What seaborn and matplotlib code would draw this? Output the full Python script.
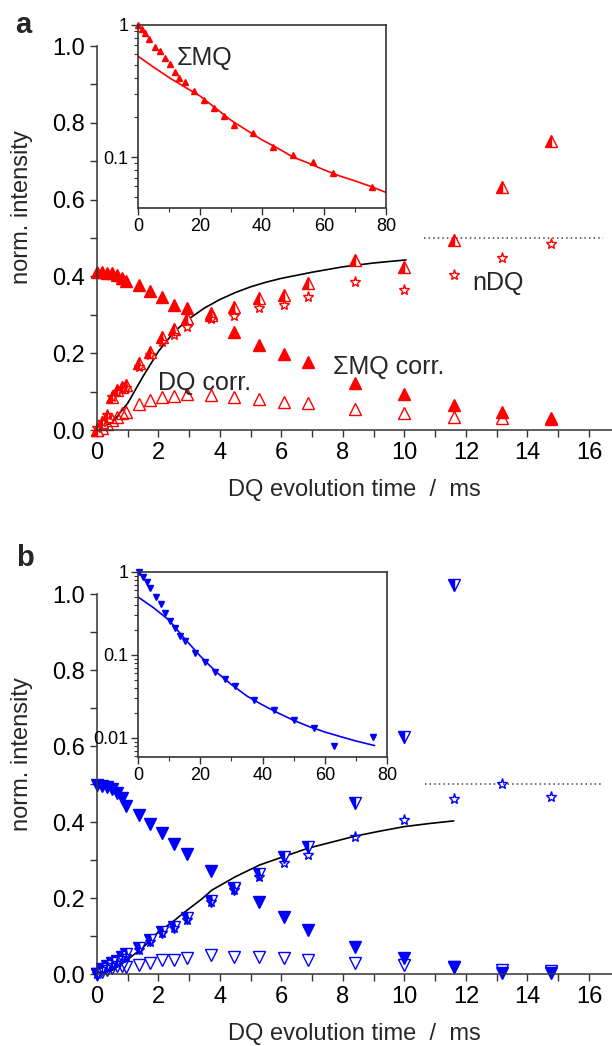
import matplotlib
matplotlib.use("Agg")
import matplotlib.pyplot as plt
from matplotlib.ticker import MultipleLocator, FixedLocator, FixedFormatter, LogLocator, NullFormatter
import seaborn as sns

# DQ evolution times (ms), shared by both panels
t = [0.0, 0.15, 0.33, 0.48, 0.64, 0.8, 0.95, 1.35, 1.73, 2.11, 2.5, 2.92,
     3.7, 4.47, 5.28, 6.07, 6.86, 8.4, 10.0, 11.6, 13.17, 14.75]

# panel a (red)
smq_a = [0.412, 0.412, 0.41, 0.41, 0.404, 0.395, 0.388, 0.378, 0.363, 0.347, 0.326, 0.317,
         0.304, 0.256, 0.221, 0.198, 0.176, 0.122, 0.095, 0.065, 0.048, 0.03]
dq_a = [0.0, 0.006, 0.015, 0.025, 0.035, 0.045, 0.048, 0.069, 0.078, 0.087, 0.089, 0.095,
        0.091, 0.087, 0.08, 0.074, 0.071, 0.056, 0.043, 0.035, 0.03, 0.028]
ndq_a = [0.005, 0.02, 0.04, 0.085, 0.1, 0.106, 0.11, 0.165, 0.195, 0.23, 0.247, 0.269,
         0.29, 0.297, 0.317, 0.326, 0.347, 0.386, 0.365, 0.404, 0.447, 0.484]
half_a = [0.0, 0.02, 0.037, 0.087, 0.105, 0.112, 0.117, 0.174, 0.204, 0.243, 0.262, 0.293,
          0.30, 0.321, 0.343, 0.352, 0.382, 0.443, 0.425, 0.495, 0.632, 0.753]
fit_a_t = [0, 0.5, 1.0, 1.5, 2.0, 2.5, 3.0, 3.5, 4.0, 4.5, 5.0, 5.5, 6.0, 6.5, 7.0, 7.5, 8.0, 9.0, 10.05]
fit_a_y = [0, 0.02, 0.07, 0.14, 0.205, 0.255, 0.29, 0.318, 0.34, 0.358, 0.373, 0.385, 0.395,
           0.403, 0.411, 0.418, 0.425, 0.435, 0.443]

# panel b (blue)
smq_b = [0.497, 0.495, 0.491, 0.486, 0.476, 0.462, 0.442, 0.418, 0.395, 0.372, 0.342, 0.316,
         0.272, 0.225, 0.189, 0.149, 0.116, 0.072, 0.041, 0.018, 0.003, 0.002]
dq_b = [0.0, 0.006, 0.01, 0.015, 0.02, 0.02, 0.019, 0.024, 0.03, 0.037, 0.037, 0.041,
        0.05, 0.046, 0.046, 0.043, 0.037, 0.03, 0.024, 0.019, 0.01, 0.009]
ndq_b = [0.0, 0.012, 0.019, 0.024, 0.028, 0.041, 0.047, 0.063, 0.085, 0.107, 0.12, 0.142,
         0.19, 0.221, 0.256, 0.291, 0.313, 0.361, 0.405, 0.46, 0.499, 0.465]
half_b = [0.0, 0.014, 0.022, 0.028, 0.033, 0.045, 0.052, 0.068, 0.09, 0.11, 0.125, 0.148,
          0.193, 0.226, 0.264, 0.307, 0.335, 0.449, 0.625, 1.024]
fit_b_t = [0, 0.5, 0.9, 1.5, 1.95, 2.5, 2.93, 3.4, 3.74, 4.5, 5.29, 6.07, 6.86, 7.92, 8.4,
           9.2, 10.0, 10.8, 11.6]
fit_b_y = [0, 0.01, 0.032, 0.07, 0.107, 0.14, 0.168, 0.197, 0.221, 0.256, 0.287, 0.309, 0.331,
           0.353, 0.363, 0.376, 0.388, 0.396, 0.403]

# insets: sum MQ on log scale
ins_a_t = [0.1, 1.2, 2.3, 3.7, 5.5, 7.1, 8.7, 10.3, 11.9, 13.3, 15.2, 18.2, 21.4, 24.6,
           27.8, 31.1, 37.2, 43.6, 50.1, 56.3, 63.0, 75.6]
ins_a_y = [1.0, 0.93, 0.865, 0.79, 0.685, 0.64, 0.56, 0.507, 0.443, 0.40, 0.372, 0.318,
           0.27, 0.234, 0.205, 0.175, 0.153, 0.12, 0.104, 0.092, 0.076, 0.059]
ins_a_fit_t = [0, 5, 10, 15, 20, 25, 30, 35, 40, 45, 50, 55, 60, 65, 70, 75, 80]
ins_a_fit_y = [0.58, 0.48, 0.40, 0.34, 0.29, 0.235, 0.19, 0.16, 0.135, 0.117, 0.10, 0.09,
               0.08, 0.072, 0.066, 0.06, 0.054]

ins_b_t = [0.4, 1.7, 2.8, 3.9, 5.8, 7.3, 8.7, 10.3, 11.9, 13.5, 15.2, 18.4, 21.6, 24.8,
           28.1, 31.1, 37.2, 43.6, 50.1, 56.5, 63.0, 75.6]
ins_b_y = [1.0, 0.86, 0.76, 0.636, 0.504, 0.41, 0.323, 0.259, 0.21, 0.17, 0.149, 0.105,
           0.083, 0.063, 0.052, 0.042, 0.029, 0.0218, 0.0165, 0.0131, 0.0079, 0.0102]
ins_b_fit_t = [0, 5, 10, 15, 20, 25, 30, 35, 40, 45, 50, 55, 60, 65, 70, 76]
ins_b_fit_y = [0.50, 0.37, 0.262, 0.157, 0.097, 0.063, 0.044, 0.032, 0.025, 0.020, 0.0163,
               0.0137, 0.0118, 0.0104, 0.0092, 0.0081]

RED = "#ff0000"
BLUE = "#0000ff"


def marks(ax, x, y, marker, color, fill="full", size=8.0):
    sns.lineplot(x=x, y=y, ax=ax, marker=marker, color=color, linestyle="none",
                 markeredgecolor=color, markerfacecolor=color, markerfacecoloralt="white",
                 fillstyle=fill, markersize=size, markeredgewidth=1.0,
                 clip_on=False, legend=False, errorbar=None, sort=False)


def main_axes(ax):
    ax.set_xlim(0, 16.75)
    ax.set_ylim(0, 1.0)
    sns.despine(ax=ax)
    ax.xaxis.set_major_locator(MultipleLocator(2))
    ax.xaxis.set_minor_locator(MultipleLocator(1))
    ax.yaxis.set_major_locator(MultipleLocator(0.2))
    ax.yaxis.set_minor_locator(MultipleLocator(0.1))
    ax.yaxis.set_major_formatter(matplotlib.ticker.FormatStrFormatter("%.1f"))
    ax.tick_params(which="both", direction="out", length=5, width=1, labelsize=17, colors="#333333",
                   labelcolor="black")
    for s in ax.spines.values():
        s.set_color("#333333")
        s.set_linewidth(1.1)
    ax.set_xlabel("DQ evolution time  /  ms", fontsize=17, labelpad=11)
    ax.set_ylabel("norm. intensity", fontsize=17)
    ax.yaxis.set_label_coords(-0.125, 0.58)
    ax.patch.set_alpha(0)


def inset_axes(ax, ymin, labels):
    ax.set_yscale("log")
    ax.set_xlim(0, 80)
    ax.set_ylim(ymin, 1)
    ax.xaxis.set_major_locator(MultipleLocator(20))
    ax.xaxis.set_minor_locator(MultipleLocator(10))
    vals = [v for v, _ in labels]
    ax.yaxis.set_major_locator(FixedLocator(vals))
    ax.yaxis.set_major_formatter(FixedFormatter([s for _, s in labels]))
    ax.yaxis.set_minor_locator(LogLocator(base=10, subs=[2, 3, 4, 5, 6, 7, 8, 9]))
    ax.yaxis.set_minor_formatter(NullFormatter())
    ax.tick_params(which="major", direction="out", length=5, width=1, labelsize=13, colors="#333333",
                   labelcolor="black", pad=2)
    ax.tick_params(which="minor", direction="out", length=3, width=0.8, colors="#333333")
    for s in ax.spines.values():
        s.set_color("#333333")
        s.set_linewidth(1.2)
    ax.set_xlabel("")
    ax.set_ylabel("")


sns.set_theme(style="ticks")
plt.rcParams["font.family"] = ["Liberation Sans", "DejaVu Sans"]

fig = plt.figure(figsize=(6.12, 10.46), dpi=100)

# ---- panel a ----
ax_a = fig.add_axes([0.1585, 0.5889, 0.8415, 0.3671])
sns.lineplot(x=fit_a_t, y=fit_a_y, ax=ax_a, color="black", linewidth=1.2, errorbar=None, sort=False)
ax_a.plot([10.65, 16.45], [0.5, 0.5], linestyle=(0, (1, 2)), color="#444444", linewidth=1.1)
marks(ax_a, t, dq_a, "^", RED, fill="none")
marks(ax_a, t, smq_a, "^", RED)
marks(ax_a, t, half_a, "^", RED, fill="left")
marks(ax_a, t, ndq_a, "*", RED, fill="none", size=8)
main_axes(ax_a)
ax_a.text(1.99, 0.122, "DQ corr.", fontsize=18, va="center", ha="left")
ax_a.text(7.69, 0.164, "\u03a3MQ corr.", fontsize=18, va="center", ha="left")
ax_a.text(12.2, 0.382, "nDQ", fontsize=18, va="center", ha="left")

ins_a = fig.add_axes([0.2255, 0.8011, 0.4052, 0.175])
sns.lineplot(x=ins_a_fit_t, y=ins_a_fit_y, ax=ins_a, color=RED, linewidth=1.2, errorbar=None, sort=False)
marks(ins_a, ins_a_t, ins_a_y, "^", RED, size=4.5)
inset_axes(ins_a, 0.0411, [(1, "1"), (0.1, "0.1")])
ins_a.text(12.5, 0.56, "\u03a3MQ", fontsize=18, va="center", ha="left")

# ---- panel b ----
ax_b = fig.add_axes([0.1585, 0.0688, 0.8415, 0.3633])
sns.lineplot(x=fit_b_t, y=fit_b_y, ax=ax_b, color="black", linewidth=1.2, errorbar=None, sort=False)
ax_b.plot([10.68, 16.45], [0.5, 0.5], linestyle=(0, (1, 2)), color="#444444", linewidth=1.1)
marks(ax_b, t, dq_b, "v", BLUE, fill="none")
marks(ax_b, t, smq_b, "v", BLUE)
marks(ax_b, t[:len(half_b)], half_b, "v", BLUE, fill="left")
marks(ax_b, t, ndq_b, "*", BLUE, fill="none", size=8)
main_axes(ax_b)

ins_b = fig.add_axes([0.2255, 0.2763, 0.4069, 0.1769])
sns.lineplot(x=ins_b_fit_t, y=ins_b_fit_y, ax=ins_b, color=BLUE, linewidth=1.2, errorbar=None, sort=False)
marks(ins_b, ins_b_t, ins_b_y, "v", BLUE, size=4.5)
inset_axes(ins_b, 0.0059, [(1, "1"), (0.1, "0.1"), (0.01, "0.01")])

fig.text(23 / 612, 1 - 25 / 1046, "a", fontsize=21, fontweight="bold", ha="center", va="center")
fig.text(25 / 612, 1 - 558 / 1046, "b", fontsize=21, fontweight="bold", ha="center", va="center")

fig.savefig("out.png", dpi=100)
